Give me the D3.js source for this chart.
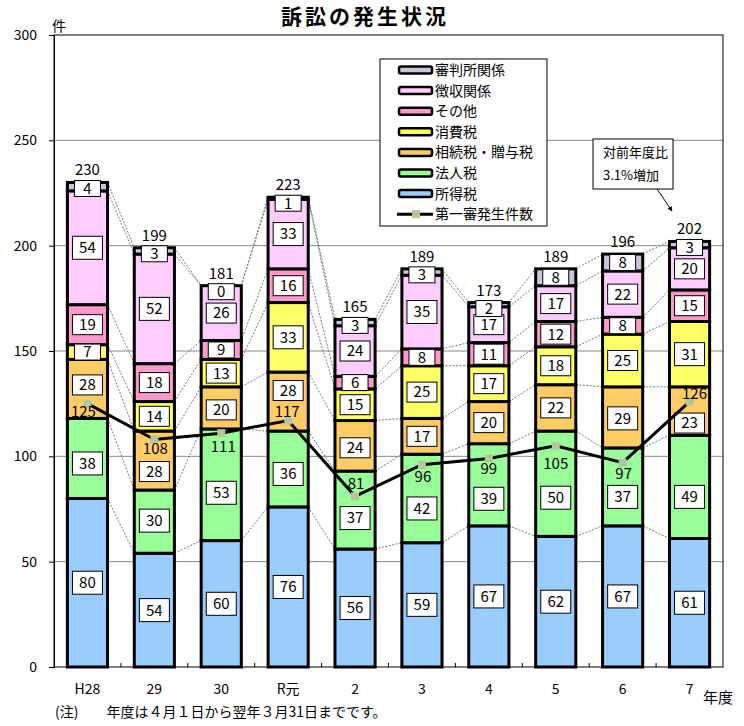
<!DOCTYPE html>
<html>
<head>
<meta charset="utf-8">
<script src="https://cdn.jsdelivr.net/npm/d3@7"></script>
<style>
  body { margin: 0; background: #fff; }
  svg text { font-family: "Noto Sans CJK JP", "DejaVu Sans", sans-serif; fill: #000; }
</style>
</head>
<body>
<div id="chart"></div>
<script>
// Years (fiscal) and counts per category, bottom to top of each stack
var years = ["H28", "29", "30", "R元", "2", "3", "4", "5", "6", "7"];
var shotoku   = [80, 54, 60, 76, 56, 59, 67, 62, 67, 61];   // 所得税
var hojin     = [38, 30, 53, 36, 37, 42, 39, 50, 37, 49];   // 法人税
var sozoku    = [28, 28, 20, 28, 24, 17, 20, 22, 29, 23];   // 相続税・贈与税
var shohi     = [7, 14, 13, 33, 15, 25, 17, 18, 25, 31];    // 消費税
var sonota    = [19, 18, 9, 16, 6, 8, 11, 12, 8, 15];       // その他
var choshu    = [54, 52, 26, 33, 24, 35, 17, 17, 22, 20];   // 徴収関係
var shinpan   = [4, 3, 0, 1, 3, 3, 2, 8, 8, 3];             // 審判所関係
var firstInst = [125, 108, 111, 117, 81, 96, 99, 105, 97, 126]; // 第一審発生件数
var yTicks = [0, 50, 100, 150, 200, 250, 300];

var seriesNames = ["所得税", "法人税", "相続税・贈与税", "消費税", "その他", "徴収関係", "審判所関係"];
var seriesColors = ["#99ccff", "#99ff99", "#ffcc66", "#ffff66", "#ff99cc", "#ffccff", "#ccc4da"];
var seriesData = [shotoku, hojin, sozoku, shohi, sonota, choshu, shinpan];

// nudges for the line labels (dx, dy from the marker)
var lineLabelDx = [-4, 1, 2, -1, 1, 1, 0, 0, 1, 5];
var lineLabelDy = [8, 9, 13, -9, -13, 12, 10, 18, 11, -8];
// vertical nudges of the value boxes, kept clear of the line labels
var boxNudge = {
    1: [5, -1, 8, 5, 8, 10, 14, 14, 10, 10],
    2: [-4, 11, 2, -11, 2, 0, 0, 0, 1, 12]
};

var W = 744, H = 726;
var plot = {left: 54, right: 723, top: 35, bottom: 667};

var svg = d3.select("#chart").append("svg")
    .attr("width", W)
    .attr("height", H);

var x = d3.scaleBand()
    .domain(years)
    .range([plot.left, plot.right])
    .paddingInner(0.4)
    .paddingOuter(0.2);
var y = d3.scaleLinear()
    .domain([0, 300])
    .range([plot.bottom, plot.top]);
var bw = x.bandwidth();
var step = x.step();

// stack the rows
var rows = years.map(function(yr, i) {
    var r = {year: yr};
    seriesNames.forEach(function(n, k) { r[n] = seriesData[k][i]; });
    return r;
});
var stacked = d3.stack().keys(seriesNames)(rows);
var totals = years.map(function(yr, i) { return d3.sum(seriesData, function(a) { return a[i]; }); });

// Gridlines
svg.append("g").selectAll("line")
    .data(yTicks.filter(function(t) { return t > 0 && t < 300; }))
    .enter().append("line")
    .attr("x1", plot.left).attr("x2", plot.right)
    .attr("y1", function(d) { return y(d); })
    .attr("y2", function(d) { return y(d); })
    .attr("stroke", "#888")
    .attr("stroke-width", 1);

// Plot frame
svg.append("rect")
    .attr("x", plot.left).attr("y", plot.top)
    .attr("width", plot.right - plot.left)
    .attr("height", plot.bottom - plot.top)
    .attr("fill", "none")
    .attr("stroke", "#000")
    .attr("stroke-width", 1);

// Y axis
var yAxis = svg.append("g")
    .attr("transform", "translate(" + plot.left + ",0)")
    .call(d3.axisLeft(y).tickValues(yTicks).tickSize(5).tickPadding(12));
yAxis.select(".domain").attr("stroke", "#000");
yAxis.selectAll("text").style("font-size", "14px");

// X axis: ticks between categories, pointing up
var bounds = d3.range(1, years.length).map(function(i) { return plot.left + step * i; });
svg.append("g").selectAll("line")
    .data(bounds)
    .enter().append("line")
    .attr("x1", function(d) { return d; }).attr("x2", function(d) { return d; })
    .attr("y1", plot.bottom).attr("y2", plot.bottom - 4)
    .attr("stroke", "#000");

svg.append("g").selectAll("text")
    .data(years)
    .enter().append("text")
    .attr("x", function(d) { return x(d) + bw / 2; })
    .attr("y", 694)
    .attr("text-anchor", "middle")
    .style("font-size", "14px")
    .text(function(d) { return d; });

// Series lines between bars
stacked.forEach(function(s) {
    for (var i = 0; i < years.length - 1; i++) {
        svg.append("line")
            .attr("x1", x(years[i]) + bw)
            .attr("y1", y(s[i][1]))
            .attr("x2", x(years[i + 1]))
            .attr("y2", y(s[i + 1][1]))
            .attr("stroke", "#777")
            .attr("stroke-width", 1)
            .attr("stroke-dasharray", "2,1.5");
    }
});

// Bars
var layers = svg.append("g").selectAll("g")
    .data(stacked)
    .enter().append("g")
    .attr("fill", function(d, k) { return seriesColors[k]; });
layers.selectAll("rect")
    .data(function(d) { return d; })
    .enter().append("rect")
    .attr("x", function(d) { return x(d.data.year); })
    .attr("y", function(d) { return y(d[1]); })
    .attr("width", bw)
    .attr("height", function(d) { return y(d[0]) - y(d[1]); })
    .attr("stroke", "#000")
    .attr("stroke-width", 3);

// Segment value labels
stacked.forEach(function(s, k) {
    s.forEach(function(d, i) {
        var v = d[1] - d[0];
        var segH = y(d[0]) - y(d[1]);
        var h = segH >= 60 ? 23 : segH >= 20 ? 20 : 16;
        var w = String(v).length > 1 ? 30 : 26;
        var cx = x(years[i]) + bw / 2;
        var top = y(totals[i]);
        var cy = (y(d[0]) + y(d[1])) / 2;
        if (boxNudge[k]) cy += boxNudge[k][i];
        if (k === seriesNames.length - 1) cy = Math.max(cy, top + h / 2 - 2);
        svg.append("rect")
            .attr("x", cx - w / 2).attr("y", cy - h / 2)
            .attr("width", w).attr("height", h)
            .attr("fill", "#fff")
            .attr("stroke", "#000")
            .attr("stroke-width", 1);
        svg.append("text")
            .attr("x", cx).attr("y", cy)
            .attr("dy", "0.36em")
            .attr("text-anchor", "middle")
            .style("font-size", "15px")
            .text(v);
    });
});

// Totals above bars
svg.append("g").selectAll("text")
    .data(years)
    .enter().append("text")
    .attr("x", function(d) { return x(d) + bw / 2; })
    .attr("y", function(d, i) { return y(totals[i]) - 7; })
    .attr("text-anchor", "middle")
    .style("font-size", "15px")
    .text(function(d, i) { return totals[i]; });

// First instance line
var line = d3.line()
    .x(function(d, i) { return x(years[i]) + bw / 2; })
    .y(function(d) { return y(d); });
svg.append("path")
    .datum(firstInst)
    .attr("d", line)
    .attr("fill", "none")
    .attr("stroke", "#000")
    .attr("stroke-width", 3);
svg.append("g").selectAll("rect")
    .data(firstInst)
    .enter().append("rect")
    .attr("x", function(d, i) { return x(years[i]) + bw / 2 - 4; })
    .attr("y", function(d) { return y(d) - 4; })
    .attr("width", 8).attr("height", 8)
    .attr("fill", "#b3c79b");
svg.append("g").selectAll("text")
    .data(firstInst)
    .enter().append("text")
    .attr("x", function(d, i) { return x(years[i]) + bw / 2 + lineLabelDx[i]; })
    .attr("y", function(d, i) { return y(d) + lineLabelDy[i]; })
    .attr("dy", "0.36em")
    .attr("text-anchor", "middle")
    .style("font-size", "15px")
    .text(function(d) { return d; });

// Title and axis captions
svg.append("text")
    .attr("x", 365).attr("y", 24)
    .attr("text-anchor", "middle")
    .style("font-size", "21px")
    .style("font-weight", "bold")
    .style("letter-spacing", "3px")
    .text("訴訟の発生状況");
svg.append("text")
    .attr("x", 52).attr("y", 31)
    .style("font-size", "14px")
    .text("件");
svg.append("text")
    .attr("x", 703).attr("y", 703)
    .style("font-size", "15px")
    .text("年度");
svg.append("text")
    .attr("x", 55).attr("y", 717)
    .style("font-size", "14px")
    .text("(注)　　年度は４月１日から翌年３月31日までです。");

// Legend
var lg = svg.append("g").attr("transform", "translate(380,59)");
lg.append("rect")
    .attr("width", 167).attr("height", 167)
    .attr("fill", "#fff")
    .attr("stroke", "#000")
    .attr("stroke-width", 1);
var legendItems = seriesNames.map(function(n, k) { return {name: n, color: seriesColors[k]}; }).reverse();
legendItems.forEach(function(it, j) {
    var cy = 11 + j * 20.6;
    lg.append("rect")
        .attr("x", 19).attr("y", cy - 3.5)
        .attr("width", 33).attr("height", 7)
        .attr("rx", 2)
        .attr("fill", it.color)
        .attr("stroke", "#000")
        .attr("stroke-width", 2.5);
    lg.append("text")
        .attr("x", 55).attr("y", cy)
        .attr("dy", "0.36em")
        .style("font-size", "14px")
        .text(it.name);
});
var ly = 11 + 7 * 20.6;
lg.append("line")
    .attr("x1", 17).attr("x2", 53)
    .attr("y1", ly).attr("y2", ly)
    .attr("stroke", "#000").attr("stroke-width", 3);
lg.append("rect")
    .attr("x", 32).attr("y", ly - 4)
    .attr("width", 8).attr("height", 8)
    .attr("fill", "#b3c79b");
lg.append("text")
    .attr("x", 55).attr("y", ly)
    .attr("dy", "0.36em")
    .style("font-size", "14px")
    .text("第一審発生件数");

// Annotation box with arrow
svg.append("defs").append("marker")
    .attr("id", "arrow")
    .attr("viewBox", "0 0 10 10")
    .attr("refX", 9).attr("refY", 5)
    .attr("markerWidth", 5).attr("markerHeight", 5)
    .attr("orient", "auto")
    .append("path")
    .attr("d", "M0,0L10,5L0,10z")
    .attr("fill", "#000");
svg.append("rect")
    .attr("x", 593).attr("y", 139)
    .attr("width", 80).attr("height", 50)
    .attr("fill", "#fff")
    .attr("stroke", "#000")
    .attr("stroke-width", 1);
svg.append("text")
    .attr("x", 603).attr("y", 157)
    .style("font-size", "13px")
    .text("対前年度比");
svg.append("text")
    .attr("x", 603).attr("y", 180)
    .style("font-size", "13px")
    .text("3.1%増加");
svg.append("line")
    .attr("x1", 657).attr("y1", 189)
    .attr("x2", 672).attr("y2", 211)
    .attr("stroke", "#000")
    .attr("stroke-width", 1)
    .attr("marker-end", "url(#arrow)");
</script>
</body>
</html>
